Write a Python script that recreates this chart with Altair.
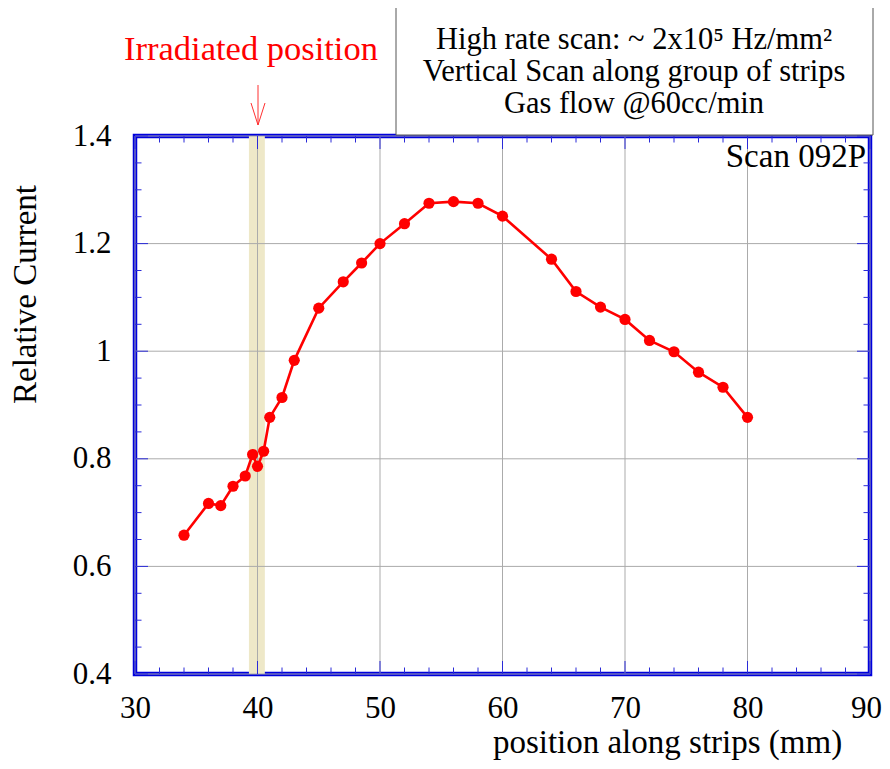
import altair as alt
import pandas as pd

# ---- data ----
position = [34, 36, 37, 38, 39, 39.6, 40, 40.5, 41, 42, 43, 45, 47, 48.5, 50, 52, 54, 56,
            58, 60, 64, 66, 68, 70, 72, 74, 76, 78, 80]
current = [0.658, 0.717, 0.713, 0.749, 0.768, 0.808, 0.786, 0.814, 0.877, 0.914, 0.983,
           1.080, 1.129, 1.164, 1.200, 1.237, 1.275, 1.278, 1.275, 1.251, 1.171, 1.111,
           1.082, 1.059, 1.020, 0.999, 0.961, 0.933, 0.877]

x_major = [30, 40, 50, 60, 70, 80, 90]
x_minor = [32, 34, 36, 38, 42, 44, 46, 48, 52, 54, 56, 58, 62, 64, 66, 68, 72, 74, 76, 78,
           82, 84, 86, 88]
y_major = [0.4, 0.6, 0.8, 1.0, 1.2, 1.4]
y_minor = [0.45, 0.5, 0.55, 0.65, 0.7, 0.75, 0.85, 0.9, 0.95, 1.05, 1.1, 1.15, 1.25, 1.3, 1.35]

band_start = [39.3]
band_end = [40.6]

box_lines = ["High rate scan: ~ 2x10\u2075 Hz/mm\u00b2",
             "Vertical Scan along group of strips",
             "Gas flow @60cc/min"]
scan_label = "Scan 092P"
irradiated_label = "Irradiated position"

W, H = 735, 538
FONT = "Liberation Serif"
FRAME = "#0000dd"
TICKC = "#2a2ad8"
GRIDC = "#ababab"

xs = alt.Scale(domain=[30, 90], nice=False, zero=False)
ys = alt.Scale(domain=[0.4, 1.4], nice=False, zero=False)

xaxis = alt.Axis(values=x_major, ticks=False, tickSize=0, domain=False, grid=False,
                 labelPadding=19, format="d", labelFlush=False, labelOverlap=False,
                 labelOffset={"expr": "datum.value == 90 ? -4 : 0"},
                 title="position along strips (mm)", titleX=532, titleY=68,
                 titleAlign="center", titleBaseline="middle")
yaxis = alt.Axis(values=y_major, ticks=False, tickSize=0, domain=False, grid=False,
                 labelPadding=24, format=".1~f", labelOverlap=False, labelFlush=False,
                 title="Relative Current", titleAngle=270, titleX=-110, titleY=158,
                 titleAlign="center", titleBaseline="middle")

df = pd.DataFrame({"pos": position, "cur": current})
df_band = pd.DataFrame({"a": band_start, "b": band_end, "lo": [0.4], "hi": [1.4]})
df_xmaj = pd.DataFrame({"v": x_major})
df_xmin = pd.DataFrame({"v": x_minor})
df_ymaj = pd.DataFrame({"v": y_major})
df_ymin = pd.DataFrame({"v": y_minor})
one = pd.DataFrame({"k": [0]})

X = lambda f="v:Q": alt.X(f, scale=xs, axis=xaxis)
Y = lambda f="v:Q": alt.Y(f, scale=ys, axis=yaxis)

band = alt.Chart(df_band).mark_rect(color="#eee8c8").encode(
    x=X("a:Q"), x2="b:Q", y=Y("lo:Q"), y2="hi:Q")

grid_x = alt.Chart(df_xmaj).mark_rule(color=GRIDC, strokeWidth=1).encode(
    x=X(), y=alt.value(0), y2=alt.value(H))
grid_y = alt.Chart(df_ymaj).mark_rule(color=GRIDC, strokeWidth=1).encode(
    y=Y(), x=alt.value(0), x2=alt.value(W))

def xticks(d, L):
    bot = alt.Chart(d).mark_rule(color=TICKC, strokeWidth=1).encode(
        x=X(), y=alt.value(H), y2=alt.value(H - L))
    top = alt.Chart(d).mark_rule(color=TICKC, strokeWidth=1).encode(
        x=X(), y=alt.value(0), y2=alt.value(L))
    return [bot, top]

def yticks(d, L):
    lft = alt.Chart(d).mark_rule(color=TICKC, strokeWidth=1).encode(
        y=Y(), x=alt.value(0), x2=alt.value(L))
    rgt = alt.Chart(d).mark_rule(color=TICKC, strokeWidth=1).encode(
        y=Y(), x=alt.value(W), x2=alt.value(W - L))
    return [lft, rgt]

ticks = xticks(df_xmaj, 13) + xticks(df_xmin, 6.5) + yticks(df_ymaj, 13) + yticks(df_ymin, 6.5)

line = alt.Chart(df).mark_line(color="#ff0000", strokeWidth=2.6).encode(
    x=X("pos:Q"), y=Y("cur:Q"))
points = alt.Chart(df).mark_circle(color="#ff0000", size=125, opacity=1).encode(
    x=X("pos:Q"), y=Y("cur:Q"))

box = alt.Chart(one).mark_rect(fill="white", stroke="#555555", strokeWidth=1).encode(
    x=alt.value(261), x2=alt.value(738), y=alt.value(-131), y2=alt.value(-1))

box_texts = [
    alt.Chart(one).mark_text(text=t, font=FONT, fontSize=30.5, color="black",
                             align="center", baseline="middle").encode(
        x=alt.value(499), y=alt.value(yy))
    for t, yy in zip(box_lines, [-96, -64, -32])
]

scan = alt.Chart(one).mark_text(text=scan_label, font=FONT, fontSize=33, color="black",
                                align="right", baseline="middle").encode(
    x=alt.value(731), y=alt.value(21))

irr = alt.Chart(one).mark_text(text=irradiated_label, font=FONT, fontSize=34.5, color="#ff0000",
                               align="center", baseline="middle").encode(
    x=alt.value(116), y=alt.value(-86))

ARR = "#ff3030"
arrow = [
    alt.Chart(one).mark_rule(color=ARR, strokeWidth=1).encode(
        x=alt.value(123), x2=alt.value(123), y=alt.value(-51), y2=alt.value(-11)),
    alt.Chart(one).mark_rule(color=ARR, strokeWidth=1).encode(
        x=alt.value(116), x2=alt.value(123), y=alt.value(-33), y2=alt.value(-11)),
    alt.Chart(one).mark_rule(color=ARR, strokeWidth=1).encode(
        x=alt.value(130), x2=alt.value(123), y=alt.value(-33), y2=alt.value(-11)),
]

chart = alt.layer(
    band, grid_x, grid_y, *ticks, line, points, box, *box_texts, scan, irr, *arrow
).properties(
    width=W, height=H,
    autosize=alt.AutoSizeParams(type="none"),
    padding={"left": 127, "top": 128, "right": 12, "bottom": 87},
).configure_view(
    stroke=FRAME, strokeWidth=4.5
).configure_axis(
    labelFont=FONT, titleFont=FONT, labelFontSize=31, titleFontSize=33,
    labelColor="black", titleColor="black", titleFontWeight="normal"
)

chart.save("out.html", embed_options={"renderer": "svg", "actions": False})
